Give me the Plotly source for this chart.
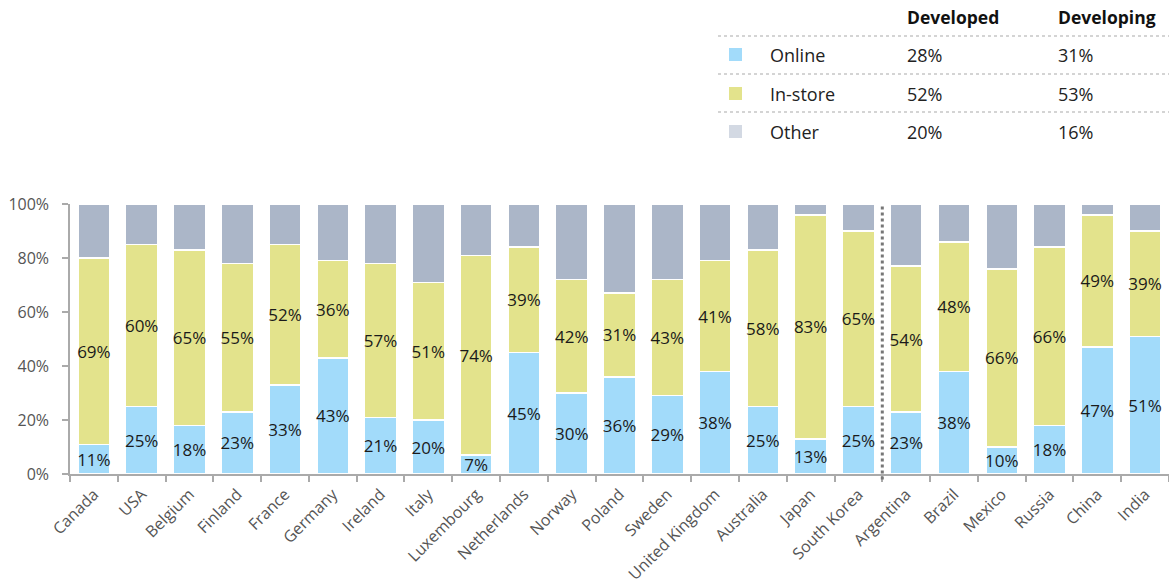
import plotly.graph_objects as go

countries = ["Canada", "USA", "Belgium", "Finland", "France", "Germany", "Ireland", "Italy",
             "Luxembourg", "Netherlands", "Norway", "Poland", "Sweden", "United Kingdom",
             "Australia", "Japan", "South Korea", "Argentina", "Brazil", "Mexico", "Russia",
             "China", "India"]
online = [11, 25, 18, 23, 33, 43, 21, 20, 7, 45, 30, 36, 29, 38, 25, 13, 25, 23, 38, 10, 18, 47, 51]
instore = [69, 60, 65, 55, 52, 36, 57, 51, 74, 39, 42, 31, 43, 41, 58, 83, 65, 54, 48, 66, 66, 49, 39]
other = [20, 15, 17, 22, 15, 21, 22, 29, 19, 16, 28, 33, 28, 21, 17, 4, 10, 23, 14, 24, 16, 4, 10]

table_rows = ["Online", "In-store", "Other"]
table_developed = [28, 52, 20]
table_developing = [31, 53, 16]
table_headers = ["Developed", "Developing"]
y_ticks = [0, 20, 40, 60, 80, 100]

FONT = "Open Sans"
C_ON = "#a2dbfa"
C_IN = "#e3e38c"
C_OT = "#abb6c8"
C_OT_LEG = "#d3d9e3"

W, H = 1169, 586
L, R, T, B = 70, 0, 204, 112
pw = W - L - R
ph = H - T - B


def px(xpix):
    return (xpix - L) / pw


def pyp(ypix):
    return (H - B - ypix) / ph


fig = go.Figure()
for name, vals, col, show in [("Online", online, C_ON, True), ("In-store", instore, C_IN, True),
                              ("Other", other, C_OT, False)]:
    fig.add_trace(go.Bar(
        x=countries, y=vals, name=name,
        marker=dict(color=col, line=dict(color="white", width=1.5)),
        text=[f"{v}%" for v in vals] if show else None,
        textposition="inside" if show else "none",
        insidetextanchor="middle",
        textangle=0,
        textfont=dict(family=FONT, size=17, color="#1a1a1a"),
        hoverinfo="skip",
    ))

# divider between developed and developing
fig.add_shape(type="line", xref="x", yref="paper", x0=16.5, x1=16.5, y0=-0.02, y1=1,
              line=dict(color="#777777", width=3, dash="dot"))

# summary table (top right)
row_y = [55, 94, 132]
line_y = [36, 74, 112]
col_x = [907, 1058]

for xp, lbl in zip(col_x, table_headers):
    fig.add_annotation(xref="paper", yref="paper", x=px(xp), y=pyp(17), text=f"<b>{lbl}</b>",
                       showarrow=False, xanchor="left", yanchor="middle", xshift=-2,
                       font=dict(family=FONT, size=17.5, color="#111111"))
for yl in line_y:
    fig.add_shape(type="line", xref="paper", yref="paper", x0=px(718), x1=px(1169),
                  y0=pyp(yl), y1=pyp(yl), line=dict(color="#aaaaaa", width=1.2, dash="dot"))
for i, (lbl, d1, d2, col) in enumerate(zip(table_rows, table_developed, table_developing,
                                          [C_ON, C_IN, C_OT_LEG])):
    yc = row_y[i]
    fig.add_shape(type="rect", xref="paper", yref="paper", x0=px(729), x1=px(742),
                  y0=pyp(yc + 6), y1=pyp(yc - 7), fillcolor=col, line=dict(width=0))
    for xp, t in [(770, lbl), (col_x[0], f"{d1}%"), (col_x[1], f"{d2}%")]:
        fig.add_annotation(xref="paper", yref="paper", x=px(xp), y=pyp(yc), text=t,
                           showarrow=False, xanchor="left", yanchor="middle", xshift=-2,
                           font=dict(family=FONT, size=18, color="#222222"))

fig.update_layout(
    barmode="stack",
    bargap=0.33,
    width=W, height=H,
    margin=dict(l=L, r=R, t=T, b=B, pad=0),
    plot_bgcolor="white", paper_bgcolor="white",
    showlegend=False,
    font=dict(family=FONT, size=15, color="#555555"),
    uniformtext=dict(minsize=17, mode="show"),
    xaxis=dict(
        tickangle=-45, showline=True, linecolor="#aaaaaa", linewidth=1.5,
        ticks="outside", tickson="boundaries", tickcolor="#aaaaaa", ticklen=6, tickwidth=1.5,
        tickfont=dict(family=FONT, size=16, color="#555555"), showgrid=False,
        ticklabelstandoff=3, automargin=False,
    ),
    yaxis=dict(
        range=[0, 100], tickvals=y_ticks, ticktext=[f"{v}%" for v in y_ticks],
        showline=True, linecolor="#aaaaaa", linewidth=1.5, ticks="outside",
        tickcolor="#aaaaaa", ticklen=6, tickwidth=1.5, showgrid=False, zeroline=False,
        tickfont=dict(family=FONT, size=16, color="#555555"),
        ticklabelstandoff=10, automargin=False,
    ),
)

fig.write_html("out.html", config={"displayModeBar": False},
               post_script="document.body.style.margin='0';document.body.style.overflow='hidden';")
